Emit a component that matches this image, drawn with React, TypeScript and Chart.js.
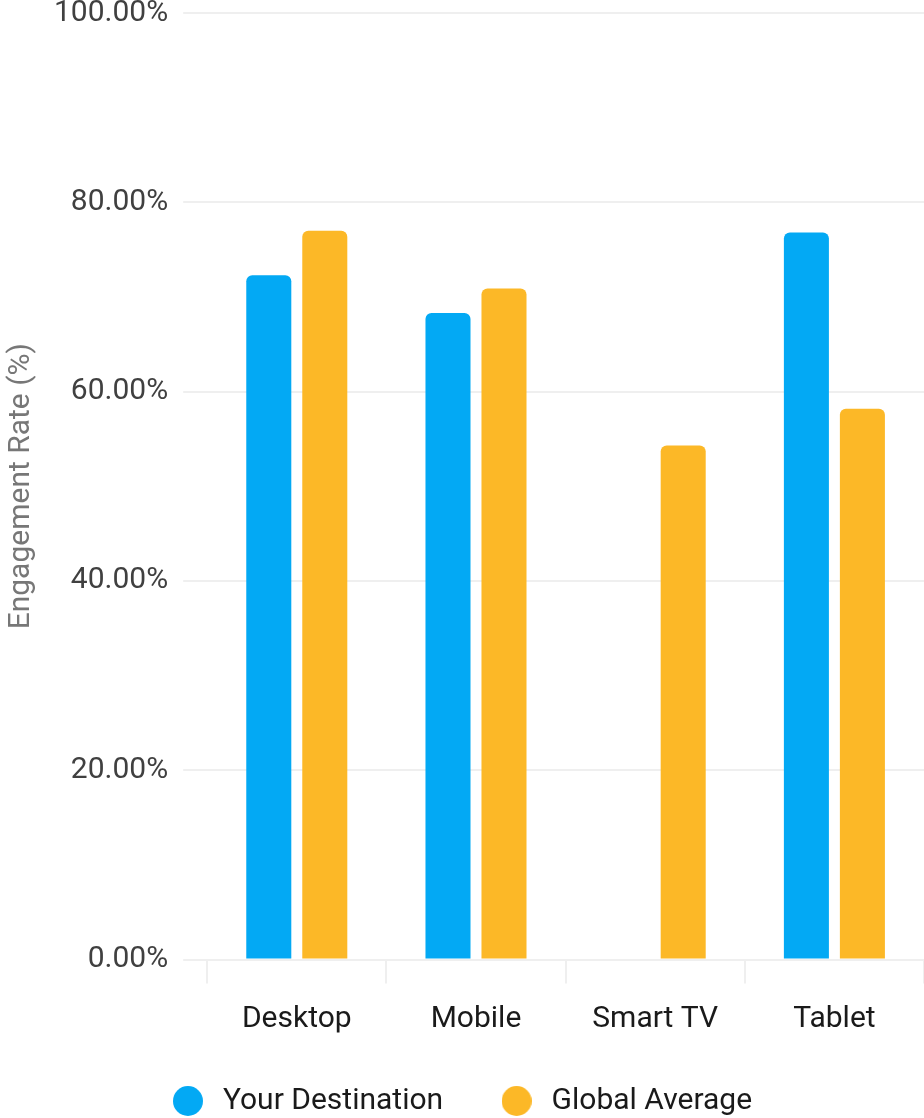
import { useEffect, useRef } from "react";
import { Chart, registerables } from "chart.js";

Chart.register(...registerables);

const categories = ["Desktop", "Mobile", "Smart TV", "Tablet"];
const seriesNames = ["Your Destination", "Global Average"];
const yourDestination: (number | null)[] = [72.3, 68.3, null, 76.8];
const globalAverage: (number | null)[] = [77.0, 70.9, 54.3, 58.2];
const yTickValues = [0, 20, 40, 60, 80, 100];
const yTitle = "Engagement Rate (%)";

const BLUE = "#03A9F4";
const AMBER = "#FCB827";
const GRID = "#efefef";
const FONT = "Roboto";

function circleMarker(color: string, size: number) {
  const c = document.createElement("canvas");
  c.width = size;
  c.height = size;
  const ctx = c.getContext("2d");
  if (ctx) {
    ctx.fillStyle = color;
    ctx.beginPath();
    ctx.arc(size / 2, size / 2, size / 2, 0, Math.PI * 2);
    ctx.fill();
  }
  return c;
}

const legendShift = {
  id: "legendShift",
  afterLayout(chart: any) {
    const l = chart.legend;
    if (l) {
      l.left -= 2;
      l.right -= 2;
    }
  },
};

export default function App() {
  const ref = useRef<HTMLCanvasElement>(null);

  useEffect(() => {
    document.body.style.margin = "0";
    const canvas = ref.current;
    if (!canvas) return;
    const markers = [circleMarker(BLUE, 30), circleMarker(AMBER, 30)];
    const chart = new Chart(canvas, {
      type: "bar",
      data: {
        labels: categories,
        datasets: [
          {
            label: seriesNames[0],
            data: yourDestination,
            backgroundColor: BLUE,
            borderRadius: 6,
            borderSkipped: "start",
            categoryPercentage: 0.625,
            barPercentage: 0.804,
          },
          {
            label: seriesNames[1],
            data: globalAverage,
            backgroundColor: AMBER,
            borderRadius: 6,
            borderSkipped: "start",
            categoryPercentage: 0.625,
            barPercentage: 0.804,
          },
        ],
      },
      plugins: [legendShift],
      options: {
        responsive: false,
        animation: false,
        devicePixelRatio: 1,
        layout: { padding: 0 },
        plugins: {
          tooltip: { enabled: false },
          legend: {
            position: "bottom",
            labels: {
              usePointStyle: true,
              pointStyleWidth: 40,
              boxHeight: 21,
              padding: 53.5,
              color: "#1a1a1a",
              font: { family: FONT, size: 30 },
              generateLabels: (ch: any) => {
                const items = Chart.defaults.plugins.legend.labels.generateLabels(ch);
                return items.map((it: any, i: number) => ({ ...it, pointStyle: markers[i] }));
              },
            },
          },
        },
        scales: {
          x: {
            border: { display: false },
            grid: {
              drawOnChartArea: false,
              drawTicks: true,
              tickLength: 24,
              color: GRID,
              lineWidth: 2,
            },
            ticks: {
              color: "#1a1a1a",
              padding: 21,
              font: { family: FONT, size: 30, lineHeight: 1 },
            },
            afterFit: (scale: any) => {
              scale.height = 73;
            },
          },
          y: {
            min: 0,
            max: 100,
            border: { display: false },
            afterBuildTicks: (scale: any) => {
              scale.ticks = yTickValues.map((v) => ({ value: v }));
            },
            grid: {
              color: GRID,
              lineWidth: 2,
              tickLength: 24,
            },
            ticks: {
              color: "#404040",
              padding: 15,
              font: { family: FONT, size: 30, lineHeight: 0 },
              callback: (v: any) => Number(v).toFixed(2) + "%",
            },
            title: {
              display: true,
              text: yTitle,
              color: "#777777",
              padding: { top: 3, bottom: 0 },
              font: { family: FONT, size: 30 },
            },
          },
        },
      },
    } as any);
    return () => chart.destroy();
  }, []);

  return (
    <div
      style={{
        position: "absolute",
        left: 0,
        top: 0,
        width: 924,
        height: 1118,
        overflow: "hidden",
        background: "#ffffff",
      }}
    >
      <canvas
        ref={ref}
        width={924}
        height={1128}
        style={{ display: "block", width: 924, height: 1128, position: "absolute", left: 0, top: -2 }}
      />
    </div>
  );
}
